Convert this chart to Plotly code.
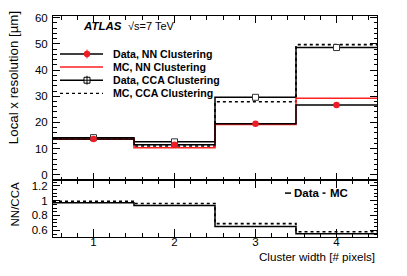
import plotly.graph_objects as go

# ---- data ----
cluster_width = [1, 2, 3, 4]
data_nn = [13.7, 11.5, 19.5, 26.7]
mc_nn = [13.6, 10.3, 19.2, 29.2]
data_cca = [14.2, 12.6, 29.6, 48.6]
mc_cca = [14.0, 11.0, 27.9, 49.7]
ratio_data = [0.97, 0.935, 0.65, 0.555]
ratio_mc = [0.99, 0.96, 0.69, 0.58]
xtick_vals = [1, 2, 3, 4]

FONT = "Liberation Sans, Arial, Helvetica, sans-serif"

# figure geometry
W, H = 407, 276
ML, MR, MT, MB = 53, 30, 13, 39
PW, PH = W - ML - MR, H - MT - MB
SPLIT = 179.3  # pixel row where the two pads meet


def xp(px):
    return (px - ML) / PW


def yp(py):
    return (H - MB - py) / PH


def edges(centers):
    return [c - 0.5 for c in centers] + [centers[-1] + 0.5]


def steps(vals):
    return list(vals) + [vals[-1]]


xe = edges(cluster_width)

fig = go.Figure()

# ---- top pad ----
fig.add_trace(go.Scatter(x=xe, y=steps(mc_cca), mode="lines", line_shape="hv",
                         line=dict(color="black", width=1.6, dash="dot"),
                         xaxis="x", yaxis="y", showlegend=False))
fig.add_trace(go.Scatter(x=xe, y=steps(data_cca), mode="lines", line_shape="hv",
                         line=dict(color="black", width=1.5),
                         xaxis="x", yaxis="y", showlegend=False))
fig.add_trace(go.Scatter(x=xe, y=steps(mc_nn), mode="lines", line_shape="hv",
                         line=dict(color="#ff2020", width=1.5),
                         xaxis="x", yaxis="y", showlegend=False))
fig.add_trace(go.Scatter(x=xe, y=steps(data_nn), mode="lines", line_shape="hv",
                         line=dict(color="black", width=1.5),
                         xaxis="x", yaxis="y", showlegend=False))
fig.add_trace(go.Scatter(x=cluster_width, y=data_cca, mode="markers",
                         marker=dict(symbol="square", size=6, color="white",
                                     line=dict(color="#333333", width=1)),
                         xaxis="x", yaxis="y", showlegend=False))
fig.add_trace(go.Scatter(x=cluster_width, y=data_nn, mode="markers",
                         marker=dict(symbol="circle", size=6.5, color="#ee1c25",
                                     line=dict(width=0)),
                         xaxis="x", yaxis="y", showlegend=False))

# ---- ratio pad ----
fig.add_trace(go.Scatter(x=xe, y=steps(ratio_mc), mode="lines", line_shape="hv",
                         line=dict(color="black", width=1.6, dash="dot"),
                         xaxis="x2", yaxis="y2", showlegend=False))
fig.add_trace(go.Scatter(x=xe, y=steps(ratio_data), mode="lines", line_shape="hv",
                         line=dict(color="black", width=1.5),
                         xaxis="x2", yaxis="y2", showlegend=False))

split_dom = yp(SPLIT)

common_axis = dict(showline=True, linecolor="black", linewidth=1, mirror="ticks",
                   ticks="inside", tickcolor="black", showgrid=False, zeroline=False,
                   tickfont=dict(family=FONT, size=11.5, color="black"))

fig.update_layout(
    width=W, height=H, margin=dict(l=ML, r=MR, t=MT, b=MB),
    paper_bgcolor="white", plot_bgcolor="white",
    font=dict(family=FONT, color="black"),
    xaxis=dict(domain=[0, 1], anchor="y", range=[0.5, 4.5], tickvals=xtick_vals,
               showticklabels=False, ticklen=7,
               minor=dict(dtick=0.2, tick0=0, ticks="inside", ticklen=3.5, tickcolor="black"),
               **common_axis),
    yaxis=dict(domain=[split_dom, 1], anchor="x", range=[-2.0, 60.64], dtick=10, tick0=0,
               ticklen=7, ticklabelstandoff=2,
               minor=dict(dtick=2, ticks="inside", ticklen=3.5, tickcolor="black"),
               **common_axis),
    xaxis2=dict(domain=[0, 1], anchor="y2", range=[0.5, 4.5], tickvals=xtick_vals,
                ticklen=8, matches="x", ticklabelstandoff=-6,
                minor=dict(dtick=0.2, tick0=0, ticks="inside", ticklen=4, tickcolor="black"),
                **common_axis),
    yaxis2=dict(domain=[0, split_dom], anchor="x2", range=[0.51, 1.276], dtick=0.2,
                tick0=0, ticklen=7, ticklabelstandoff=2,
                tickvals=[0.6, 0.8, 1.0, 1.2], ticktext=["0.6", "0.8", "1", "1.2"],
                minor=dict(dtick=0.05, tick0=0, ticks="inside", ticklen=3.5, tickcolor="black"),
                **common_axis),
)

ann = []
shapes = []

# axis titles
ann.append(dict(text="Local x resolution [µm]", textangle=-90, xref="paper", yref="paper",
                x=xp(13.5), y=yp(75.5), xanchor="center", yanchor="middle", showarrow=False,
                font=dict(family=FONT, size=13.3, color="black")))
ann.append(dict(text="NN/CCA", textangle=-90, xref="paper", yref="paper",
                x=xp(15), y=yp(204), xanchor="center", yanchor="middle", showarrow=False,
                font=dict(family=FONT, size=11.5, color="black")))
ann.append(dict(text="Cluster width [# pixels]", xref="paper", yref="paper",
                x=xp(376.5), y=yp(257), xanchor="right", yanchor="middle", showarrow=False,
                font=dict(family=FONT, size=11.6, color="black")))

# ATLAS label
ann.append(dict(text="<b><i>ATLAS</i></b>", xref="paper", yref="paper",
                x=xp(81), y=yp(22.7), xanchor="left", yanchor="middle", showarrow=False,
                font=dict(family=FONT, size=11.5, color="black")))
ann.append(dict(text="√s=7 TeV", xref="paper", yref="paper",
                x=xp(125.5), y=yp(22.7), xanchor="left", yanchor="middle", showarrow=False,
                font=dict(family=FONT, size=11, color="black")))

# top-pad legend
legend_labels = ["Data, NN Clustering", "MC, NN Clustering",
                 "Data, CCA Clustering", "MC, CCA Clustering"]
rows = [51.5, 64.8, 78.1, 91.4]
lx0, lx1, mx, tx = 60, 103, 87, 111
for lab, ry in zip(legend_labels, rows):
    ann.append(dict(text="<b>" + lab + "</b>", xref="paper", yref="paper",
                    x=xp(tx), y=yp(ry), xanchor="left", yanchor="middle", showarrow=False,
                    font=dict(family=FONT, size=10.6, color="black")))
# line glyphs
shapes.append(dict(type="line", xref="paper", yref="paper", x0=xp(lx0), x1=xp(lx1),
                   y0=yp(rows[0]), y1=yp(rows[0]), line=dict(color="black", width=1.5)))
shapes.append(dict(type="line", xref="paper", yref="paper", x0=xp(lx0), x1=xp(lx1),
                   y0=yp(rows[1]), y1=yp(rows[1]), line=dict(color="#ff2020", width=1.5)))
shapes.append(dict(type="line", xref="paper", yref="paper", x0=xp(lx0), x1=xp(lx1),
                   y0=yp(rows[2]), y1=yp(rows[2]), line=dict(color="black", width=1.5)))
shapes.append(dict(type="line", xref="paper", yref="paper", x0=xp(lx0), x1=xp(lx1),
                   y0=yp(rows[3]), y1=yp(rows[3]), line=dict(color="black", width=1.2, dash="dot")))
# marker glyphs
r = 3.2
shapes.append(dict(type="circle", xref="paper", yref="paper",
                   x0=xp(mx - r), x1=xp(mx + r), y0=yp(rows[0] + r), y1=yp(rows[0] - r),
                   fillcolor="#ee1c25", line=dict(width=0)))
shapes.append(dict(type="line", xref="paper", yref="paper", x0=xp(mx), x1=xp(mx),
                   y0=yp(rows[0] - 4.5), y1=yp(rows[0] + 4.5), line=dict(color="#ee1c25", width=1)))
s = 3
shapes.append(dict(type="rect", xref="paper", yref="paper",
                   x0=xp(mx - s), x1=xp(mx + s), y0=yp(rows[2] + s), y1=yp(rows[2] - s),
                   fillcolor="white", line=dict(color="black", width=1)))
shapes.append(dict(type="line", xref="paper", yref="paper", x0=xp(mx), x1=xp(mx),
                   y0=yp(rows[2] - 4.5), y1=yp(rows[2] + 4.5), line=dict(color="black", width=1)))
shapes.append(dict(type="line", xref="paper", yref="paper", x0=xp(mx - s), x1=xp(mx + s),
                   y0=yp(rows[2]), y1=yp(rows[2]), line=dict(color="black", width=1)))

# ratio-pad legend
ry = 192.5
shapes.append(dict(type="line", xref="paper", yref="paper", x0=xp(285), x1=xp(291),
                   y0=yp(ry), y1=yp(ry), line=dict(color="black", width=1.5)))
ann.append(dict(text="<b>Data</b>", xref="paper", yref="paper",
                x=xp(291.5), y=yp(ry), xanchor="left", yanchor="middle", showarrow=False,
                font=dict(family=FONT, size=11.5, color="black")))
shapes.append(dict(type="line", xref="paper", yref="paper", x0=xp(322.5), x1=xp(327.5),
                   y0=yp(ry), y1=yp(ry), line=dict(color="black", width=1.5, dash="dot")))
ann.append(dict(text="<b>MC</b>", xref="paper", yref="paper",
                x=xp(328), y=yp(ry), xanchor="left", yanchor="middle", showarrow=False,
                font=dict(family=FONT, size=11.5, color="black")))

fig.update_layout(annotations=ann, shapes=shapes)

fig.write_html("out.html", config={"displayModeBar": False},
               post_script="document.body.style.margin='0';document.body.style.padding='0';")
